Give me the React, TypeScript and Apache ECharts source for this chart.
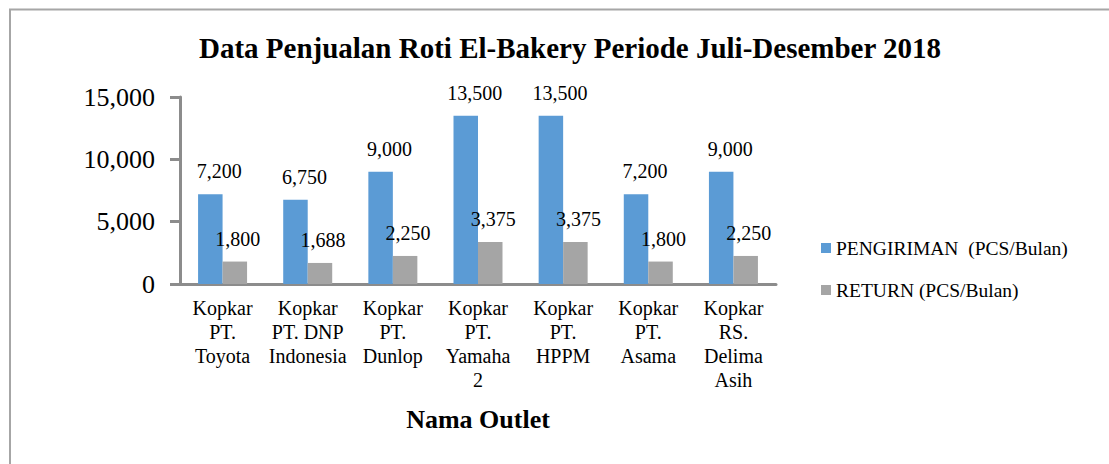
import React, { useEffect, useRef } from "react";
import * as echarts from "echarts";

const categories = [
  "Kopkar\nPT.\nToyota",
  "Kopkar\nPT. DNP\nIndonesia",
  "Kopkar\nPT.\nDunlop",
  "Kopkar\nPT.\nYamaha\n2",
  "Kopkar\nPT.\nHPPM",
  "Kopkar\nPT.\nAsama",
  "Kopkar\nRS.\nDelima\nAsih",
];
const pengiriman = [7200, 6750, 9000, 13500, 13500, 7200, 9000];
const returnVals = [1800, 1688, 2250, 3375, 3375, 1800, 2250];
const seriesNames = ["PENGIRIMAN  (PCS/Bulan)", "RETURN (PCS/Bulan)"];
const titleText = "Data Penjualan Roti El-Bakery Periode Juli-Desember 2018";
const xAxisTitle = "Nama Outlet";

const FONT = '"Liberation Serif", "Times New Roman", serif';
const fmt = (v: number) => v.toLocaleString("en-US");

export default function App() {
  const ref = useRef<HTMLDivElement>(null);
  useEffect(() => {
    if (!ref.current) return;
    const chart = echarts.init(ref.current, null, { renderer: "svg" });
    chart.setOption({
      animation: false,
      backgroundColor: "#ffffff",
      textStyle: { fontFamily: FONT },
      title: {
        text: titleText,
        left: 565,
        textAlign: "center",
        top: 28,
        textStyle: { fontFamily: FONT, fontSize: 29, fontWeight: "bold", color: "#000" },
      },
      legend: {
        orient: "vertical",
        left: 816,
        top: 233,
        itemGap: 22,
        itemWidth: 10,
        itemHeight: 10,
        icon: "rect",
        textStyle: { fontFamily: FONT, fontSize: 19.5, color: "#000" },
        data: seriesNames,
      },
      grid: { left: 180, right: 333, top: 97, bottom: 180, containLabel: false },
      xAxis: {
        type: "category",
        data: categories,
        axisLine: { lineStyle: { color: "#8c8c8c", width: 3 } },
        axisTick: { show: false },
        axisLabel: {
          fontFamily: FONT,
          fontSize: 20,
          color: "#000",
          lineHeight: 24,
          margin: 12,
          interval: 0,
        },
      },
      yAxis: {
        type: "value",
        min: 0,
        max: 15000,
        interval: 5000,
        splitLine: { show: false },
        axisLine: { show: true, lineStyle: { color: "#8c8c8c", width: 3 } },
        axisTick: { show: true, length: 10, lineStyle: { color: "#8c8c8c", width: 3 } },
        axisLabel: {
          fontFamily: FONT,
          fontSize: 26,
          color: "#000",
          margin: 25,
          formatter: (v: number) => fmt(v),
        },
      },
      graphic: [
        {
          type: "rect",
          shape: { x: 10, y: 9.5, width: 1120, height: 470 },
          style: { fill: "none", stroke: "#a6a6a6", lineWidth: 2 },
          silent: true,
        },
        {
          type: "text",
          x: 478,
          y: 419,
          style: {
            text: xAxisTitle,
            font: `bold 26px ${FONT}`,
            fill: "#000",
            align: "center",
            verticalAlign: "middle",
          },
        },
      ],
      series: [
        {
          name: seriesNames[0],
          type: "bar",
          data: pengiriman,
          barWidth: 24.5,
          barGap: "0%",
          itemStyle: { color: "#5B9BD5" },
          label: {
            show: true,
            position: "top",
            distance: 13,
            offset: [9, 0],
            fontFamily: FONT,
            fontSize: 20,
            color: "#000",
            formatter: (p: any) => fmt(p.value),
          },
        },
        {
          name: seriesNames[1],
          type: "bar",
          data: returnVals,
          barWidth: 24.5,
          barGap: "0%",
          itemStyle: { color: "#A5A5A5" },
          label: {
            show: true,
            position: "top",
            distance: 13,
            offset: [3, 0],
            fontFamily: FONT,
            fontSize: 20,
            color: "#000",
            formatter: (p: any) => fmt(p.value),
          },
        },
      ],
    });
    return () => chart.dispose();
  }, []);
  return (
    <div
      ref={ref}
      style={{ position: "fixed", left: 0, top: 0, width: 1109, height: 464, background: "#fff" }}
    />
  );
}
